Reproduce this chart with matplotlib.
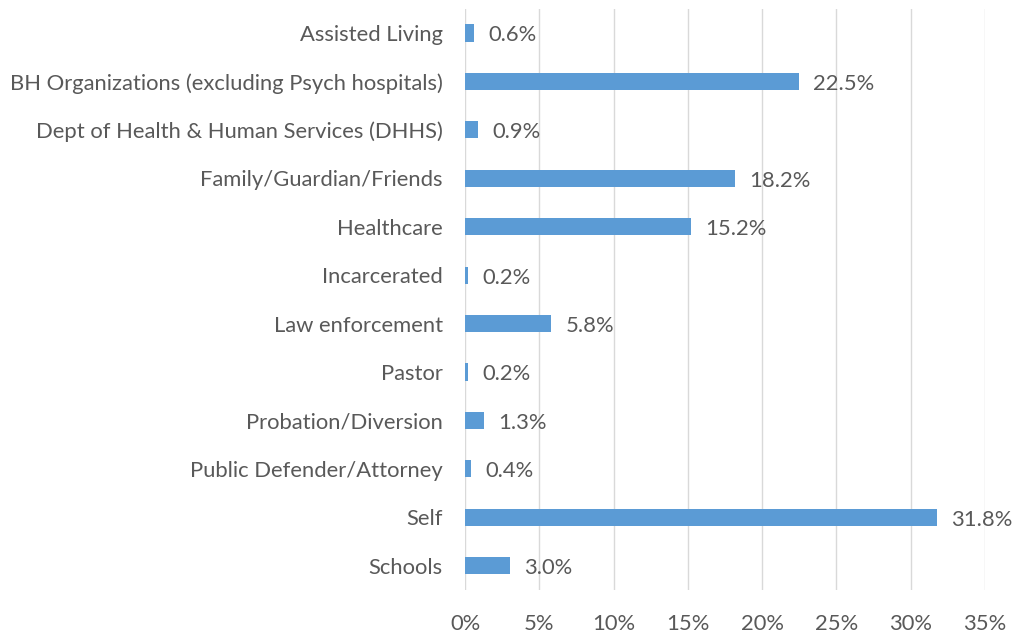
import matplotlib
matplotlib.use('Agg')
import matplotlib.pyplot as plt
from matplotlib.ticker import PercentFormatter

categories = ['Assisted Living', 'BH Organizations (excluding Psych hospitals)',
              'Dept of Health & Human Services (DHHS)', 'Family/Guardian/Friends',
              'Healthcare', 'Incarcerated', 'Law enforcement', 'Pastor',
              'Probation/Diversion', 'Public Defender/Attorney', 'Self', 'Schools']
shares = [0.6, 22.5, 0.9, 18.2, 15.2, 0.2, 5.8, 0.2, 1.3, 0.4, 31.8, 3.0]
xticks = [0, 5, 10, 15, 20, 25, 30, 35]

BAR = '#5B9BD5'
TXT = '#595959'
FS = 15.8

plt.rcParams['font.family'] = ['Lato', 'DejaVu Sans']

fig = plt.figure(figsize=(10.16, 6.35), dpi=100)
ax = fig.add_axes([0.4577, 0.0709, 0.5118, 0.9153])

ypos = list(range(len(categories)))
ax.barh(ypos, shares, height=0.355, color=BAR, zorder=3)
for y, v in zip(ypos, shares):
    ax.text(v + 0.95, y + 0.05, '%.1f%%' % v, va='center', ha='left', fontsize=FS, color=TXT)

ax.set_ylim(len(categories) - 0.5, -0.5)
ax.set_xlim(0, 35)
ax.set_yticks(ypos)
ax.set_yticklabels(categories, fontsize=FS, color=TXT)
ax.set_xticks(xticks)
ax.xaxis.set_major_formatter(PercentFormatter(decimals=0))
ax.tick_params(axis='x', labelsize=FS, colors=TXT, length=0, pad=17)
ax.tick_params(axis='y', length=0, pad=16)
ax.grid(axis='x', color='#D9D9D9', lw=1, zorder=0)
for s in ax.spines.values():
    s.set_visible(False)

fig.savefig('out.png', dpi=100)
